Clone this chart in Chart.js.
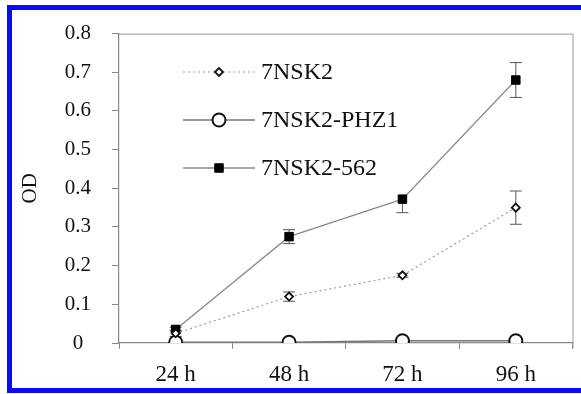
<!DOCTYPE html>
<html>
<head>
<meta charset="utf-8">
<script src="https://cdn.jsdelivr.net/npm/chart.js@4/dist/chart.umd.min.js"></script>
<style>
  html, body { margin: 0; padding: 0; background: #fff; }
  #wrap { position: relative; width: 581px; height: 394px; overflow: hidden; }
  #frame { position: absolute; left: 7px; top: 5px; width: 620px; height: 388px; box-sizing: border-box;
           border-left: 5px solid #0a0aff; border-top: 5px solid #0a0aff; border-bottom: 5px solid #0a0aff; pointer-events: none; }
</style>
</head>
<body>
<div id="wrap">
  <canvas id="chart" width="581" height="394"></canvas>
  <div id="frame"></div>
</div>
<script>
const labels = ['24 h', '48 h', '72 h', '96 h'];
const seriesNames = ['7NSK2', '7NSK2-PHZ1', '7NSK2-562'];

const wt = [0.025, 0.12, 0.175, 0.35];
const wtErrUp = [0.008, 0.012, 0.005, 0.043];
const wtErrDown = [0.008, 0.012, 0.005, 0.043];

const phz = [0.002, 0.002, 0.006, 0.006];

const m562 = [0.035, 0.275, 0.372, 0.68];
const m562ErrUp = [0.006, 0.018, 0, 0.045];
const m562ErrDown = [0.006, 0.018, 0.035, 0.045];

const yTicks = [0, 0.1, 0.2, 0.3, 0.4, 0.5, 0.6, 0.7, 0.8];

const serif = "'Times New Roman', 'Liberation Serif', 'DejaVu Serif', serif";
const textColor = '#111';

// error bars, frame and legend
const extras = {
  id: 'extras',
  beforeDatasetsDraw(chart) {
    const ctx = chart.ctx;
    const x = chart.scales.x, y = chart.scales.y;
    const sets = [[wt, wtErrUp, wtErrDown], [m562, m562ErrUp, m562ErrDown]];
    ctx.save();
    ctx.strokeStyle = '#555';
    ctx.lineWidth = 1;
    for (const [vals, up, down] of sets) {
      vals.forEach((v, i) => {
        const px = x.getPixelForValue(i);
        const top = y.getPixelForValue(v + up[i]);
        const bot = y.getPixelForValue(v - down[i]);
        ctx.beginPath();
        ctx.moveTo(px, top); ctx.lineTo(px, bot);
        if (up[i] > 0) { ctx.moveTo(px - 6, top); ctx.lineTo(px + 6, top); }
        if (down[i] > 0) { ctx.moveTo(px - 6, bot); ctx.lineTo(px + 6, bot); }
        ctx.stroke();
      });
    }
    ctx.restore();
  },
  afterDraw(chart) {
    const ctx = chart.ctx;
    const a = chart.chartArea;
    ctx.save();
    ctx.strokeStyle = '#999';
    ctx.lineWidth = 1;
    ctx.beginPath();
    ctx.moveTo(a.left, a.top + 0.5);
    ctx.lineTo(a.right + 0.5, a.top + 0.5);
    ctx.lineTo(a.right + 0.5, a.bottom + 5);
    ctx.stroke();

    // legend
    const rows = [72, 120, 168];
    const x0 = 183, x1 = 255, xm = 219;
    chart.data.datasets.forEach((ds, i) => {
      const yy = rows[i];
      ctx.strokeStyle = ds.borderColor;
      ctx.lineWidth = ds.borderWidth;
      ctx.setLineDash(ds.borderDash || []);
      ctx.beginPath();
      ctx.moveTo(x0, yy); ctx.lineTo(x1, yy);
      ctx.stroke();
      ctx.setLineDash([]);
      ctx.fillStyle = ds.pointBackgroundColor;
      ctx.strokeStyle = ds.pointBorderColor;
      ctx.lineWidth = ds.pointBorderWidth;
      Chart.helpers.drawPoint(ctx, {
        pointStyle: ds.pointStyle, radius: ds.pointRadius, borderWidth: ds.pointBorderWidth, rotation: 0
      }, xm, yy);
      ctx.fillStyle = textColor;
      ctx.font = '24px ' + serif;
      ctx.textBaseline = 'middle';
      ctx.textAlign = 'left';
      ctx.fillText(ds.label, 261, yy + 1);
    });
    ctx.restore();
  }
};

new Chart(document.getElementById('chart'), {
  type: 'line',
  data: {
    labels,
    datasets: [{
      label: seriesNames[0],
      data: wt,
      borderColor: '#9a9a9a',
      borderWidth: 1.2,
      borderDash: [2, 3],
      pointStyle: 'rectRot',
      pointRadius: 4,
      pointBorderWidth: 1.8,
      pointBackgroundColor: '#fff',
      pointBorderColor: '#111'
    }, {
      label: seriesNames[1],
      data: phz,
      borderColor: '#777',
      borderWidth: 1.5,
      pointStyle: 'circle',
      pointRadius: 6.5,
      pointBorderWidth: 2,
      pointBackgroundColor: '#fff',
      pointBorderColor: '#111'
    }, {
      label: seriesNames[2],
      data: m562,
      borderColor: '#8a8a8a',
      borderWidth: 1.3,
      pointStyle: 'rect',
      pointRadius: 6,
      pointBorderWidth: 1,
      pointBackgroundColor: '#000',
      pointBorderColor: '#000'
    }]
  },
  options: {
    responsive: false,
    animation: false,
    devicePixelRatio: 1,
    layout: { padding: { left: 0, top: 23, right: 7, bottom: 0 } },
    plugins: { legend: { display: false }, tooltip: { enabled: false } },
    elements: { line: { tension: 0 } },
    scales: {
      x: {
        offset: true,
        afterFit(scale) { scale.height = 51; },
        grid: { offset: true, drawOnChartArea: false, tickLength: 6, color: '#888' },
        border: { color: '#888', width: 1.2 },
        ticks: { color: textColor, font: { family: serif, size: 23 }, padding: 12 }
      },
      y: {
        min: 0,
        max: 0.8,
        afterFit(scale) { scale.width = 119; },
        afterBuildTicks(scale) { scale.ticks = yTicks.map(v => ({ value: v })); },
        grid: { drawOnChartArea: false, tickLength: 7, color: '#888' },
        border: { color: '#888', width: 1.2 },
        ticks: {
          color: textColor,
          font: { family: serif, size: 21 },
          crossAlign: 'center',
          padding: 21,
          callback: v => String(v)
        },
        title: { display: true, text: 'OD', color: textColor, font: { family: serif, size: 21 }, padding: { top: 18 } }
      }
    }
  },
  plugins: [extras]
});
</script>
</body>
</html>
